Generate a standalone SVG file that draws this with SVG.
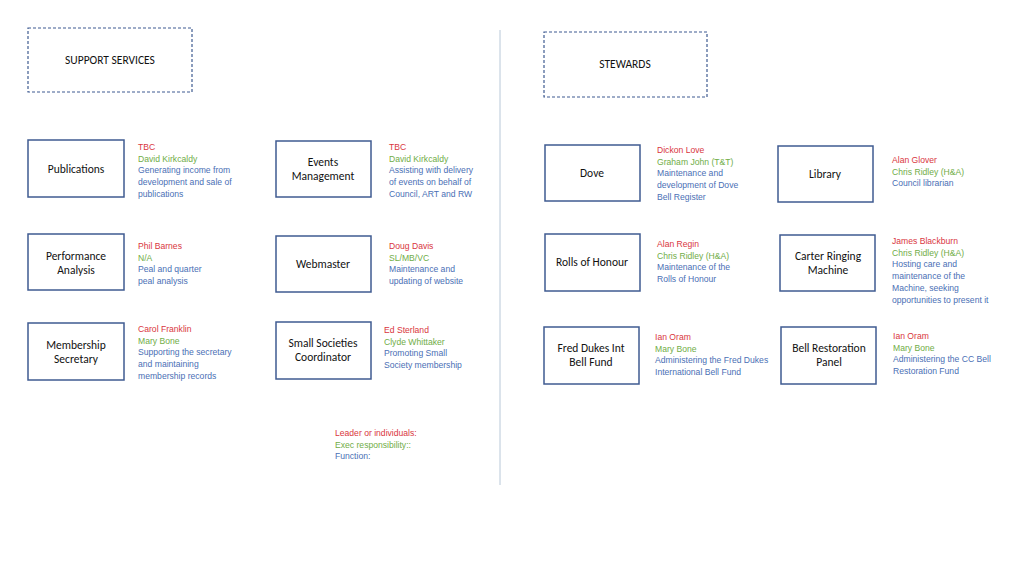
<svg xmlns="http://www.w3.org/2000/svg" width="1024" height="576" viewBox="0 0 1024 576">
<style>
.b{fill:#fff;stroke:#3f5b91;stroke-width:1.5}
.h{fill:#fff;stroke:#3f5b91;stroke-width:1.2;stroke-dasharray:3,2}
.t{font-family:Calibri,"Liberation Sans",Carlito,sans-serif;font-size:11.5px;fill:#111;text-anchor:middle}
.i{font-family:"Liberation Sans",sans-serif;font-size:8.6px}
.r{fill:#d9363e}.g{fill:#70ad47}.u{fill:#4a6fb5}
</style>
<rect width="1024" height="576" fill="#fff"/>
<g id="connectors"><line x1="500" y1="30" x2="500" y2="485" stroke="#b8c8d8" stroke-width="1"/></g>
<g id="support"><rect class="h" x="28" y="28" width="164" height="64"/><text class="t" x="110" y="64">SUPPORT SERVICES</text></g>
<g id="stewards"><rect class="h" x="544" y="32" width="163" height="65"/><text class="t" x="625" y="68">STEWARDS</text></g>

<g id="publications"><rect class="b" x="28" y="140" width="96" height="57"/><text class="t" x="76" y="173">Publications</text>
<text class="i" x="138" y="150"><tspan class="r">TBC</tspan><tspan class="g" x="138" dy="11.7">David Kirkcaldy</tspan><tspan class="u" x="138" dy="11.7">Generating income from</tspan><tspan class="u" x="138" dy="11.7">development and sale of</tspan><tspan class="u" x="138" dy="11.7">publications</tspan></text></g>

<g id="events"><rect class="b" x="276" y="141" width="95" height="56"/><text class="t" x="323" y="166">Events<tspan x="323" dy="14">Management</tspan></text>
<text class="i" x="389" y="150"><tspan class="r">TBC</tspan><tspan class="g" x="389" dy="11.7">David Kirkcaldy</tspan><tspan class="u" x="389" dy="11.7">Assisting with delivery</tspan><tspan class="u" x="389" dy="11.7">of events on behalf of</tspan><tspan class="u" x="389" dy="11.7">Council, ART and RW</tspan></text></g>

<g id="performance"><rect class="b" x="28" y="234" width="96" height="56"/><text class="t" x="76" y="260">Performance<tspan x="76" dy="14">Analysis</tspan></text>
<text class="i" x="138" y="249"><tspan class="r">Phil Barnes</tspan><tspan class="g" x="138" dy="11.7">N/A</tspan><tspan class="u" x="138" dy="11.7">Peal and quarter</tspan><tspan class="u" x="138" dy="11.7">peal analysis</tspan></text></g>

<g id="webmaster"><rect class="b" x="276" y="236" width="95" height="56"/><text class="t" x="323" y="268">Webmaster</text>
<text class="i" x="389" y="249"><tspan class="r">Doug Davis</tspan><tspan class="g" x="389" dy="11.7">SL/MB/VC</tspan><tspan class="u" x="389" dy="11.7">Maintenance and</tspan><tspan class="u" x="389" dy="11.7">updating of website</tspan></text></g>

<g id="membership"><rect class="b" x="28" y="323" width="96" height="57"/><text class="t" x="76" y="349">Membership<tspan x="76" dy="14">Secretary</tspan></text>
<text class="i" x="138" y="332"><tspan class="r">Carol Franklin</tspan><tspan class="g" x="138" dy="11.7">Mary Bone</tspan><tspan class="u" x="138" dy="11.7">Supporting the secretary</tspan><tspan class="u" x="138" dy="11.7">and maintaining</tspan><tspan class="u" x="138" dy="11.7">membership records</tspan></text></g>

<g id="smallsoc"><rect class="b" x="276" y="322" width="95" height="57"/><text class="t" x="323" y="347">Small Societies<tspan x="323" dy="14">Coordinator</tspan></text>
<text class="i" x="384" y="333"><tspan class="r">Ed Sterland</tspan><tspan class="g" x="384" dy="11.7">Clyde Whittaker</tspan><tspan class="u" x="384" dy="11.7">Promoting Small</tspan><tspan class="u" x="384" dy="11.7">Society membership</tspan></text></g>

<g id="legend"><text class="i" x="335" y="436"><tspan class="r">Leader or individuals:</tspan><tspan class="g" x="335" dy="11.7">Exec responsibility::</tspan><tspan class="u" x="335" dy="11.7">Function:</tspan></text></g>

<g id="dove"><rect class="b" x="545" y="145" width="95" height="56"/><text class="t" x="592" y="177">Dove</text>
<text class="i" x="657" y="153"><tspan class="r">Dickon Love</tspan><tspan class="g" x="657" dy="11.7">Graham John (T&amp;T)</tspan><tspan class="u" x="657" dy="11.7">Maintenance and</tspan><tspan class="u" x="657" dy="11.7">development of Dove</tspan><tspan class="u" x="657" dy="11.7">Bell Register</tspan></text></g>

<g id="library"><rect class="b" x="778" y="146" width="95" height="56"/><text class="t" x="825" y="178">Library</text>
<text class="i" x="892" y="163"><tspan class="r">Alan Glover</tspan><tspan class="g" x="892" dy="11.7">Chris Ridley (H&amp;A)</tspan><tspan class="u" x="892" dy="11.7">Council librarian</tspan></text></g>

<g id="rolls"><rect class="b" x="545" y="234" width="95" height="57"/><text class="t" x="592" y="266">Rolls of Honour</text>
<text class="i" x="657" y="247"><tspan class="r">Alan Regin</tspan><tspan class="g" x="657" dy="11.7">Chris Ridley (H&amp;A)</tspan><tspan class="u" x="657" dy="11.7">Maintenance of the</tspan><tspan class="u" x="657" dy="11.7">Rolls of Honour</tspan></text></g>

<g id="carter"><rect class="b" x="780" y="235" width="95" height="56"/><text class="t" x="828" y="260">Carter Ringing<tspan x="828" dy="14">Machine</tspan></text>
<text class="i" x="892" y="244"><tspan class="r">James Blackburn</tspan><tspan class="g" x="892" dy="11.7">Chris Ridley (H&amp;A)</tspan><tspan class="u" x="892" dy="11.7">Hosting care and</tspan><tspan class="u" x="892" dy="11.7">maintenance of the</tspan><tspan class="u" x="892" dy="11.7">Machine, seeking</tspan><tspan class="u" x="892" dy="11.7">opportunities to present it</tspan></text></g>

<g id="freddukes"><rect class="b" x="544" y="327" width="95" height="57"/><text class="t" x="591" y="352">Fred Dukes Int<tspan x="591" dy="14">Bell Fund</tspan></text>
<text class="i" x="655" y="340"><tspan class="r">Ian Oram</tspan><tspan class="g" x="655" dy="11.7">Mary Bone</tspan><tspan class="u" x="655" dy="11.7">Administering the Fred Dukes</tspan><tspan class="u" x="655" dy="11.7">International Bell Fund</tspan></text></g>

<g id="bellrest"><rect class="b" x="781" y="327" width="95" height="57"/><text class="t" x="829" y="352">Bell Restoration<tspan x="829" dy="14">Panel</tspan></text>
<text class="i" x="893" y="339"><tspan class="r">Ian Oram</tspan><tspan class="g" x="893" dy="11.7">Mary Bone</tspan><tspan class="u" x="893" dy="11.7">Administering the CC Bell</tspan><tspan class="u" x="893" dy="11.7">Restoration Fund</tspan></text></g>
</svg>
